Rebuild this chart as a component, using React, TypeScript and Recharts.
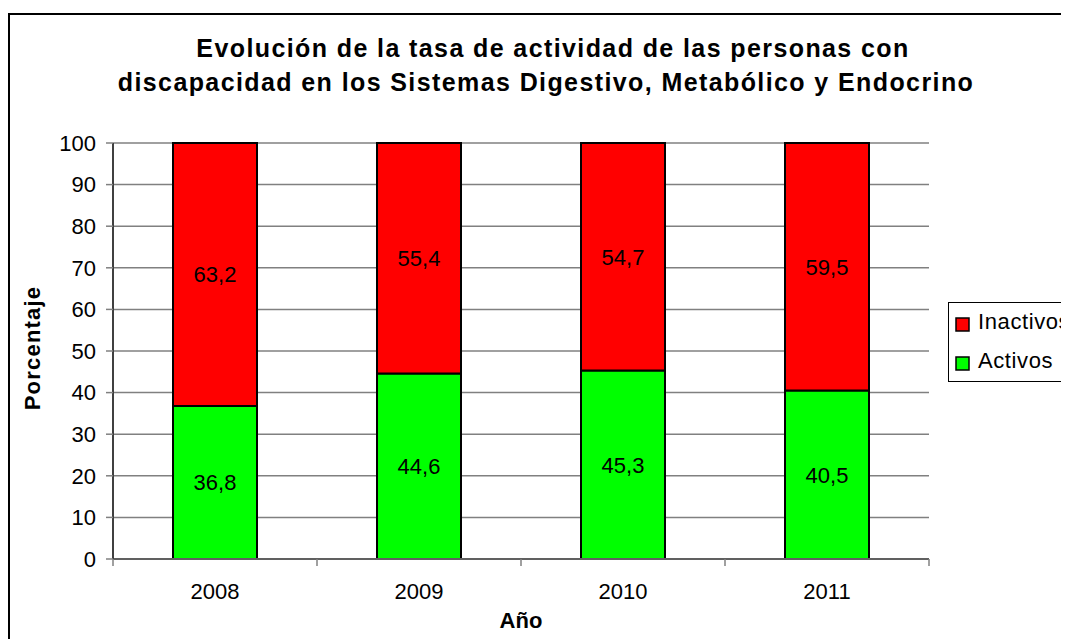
import React from "react";
import {
  BarChart,
  Bar,
  XAxis,
  YAxis,
  CartesianGrid,
  LabelList,
} from "recharts";

// Chart values
const years = ["2008", "2009", "2010", "2011"];
const activos = [36.8, 44.6, 45.3, 40.5];
const inactivos = [63.2, 55.4, 54.7, 59.5];
const yTicks = [0, 10, 20, 30, 40, 50, 60, 70, 80, 90, 100];

const series = [
  { key: "inactivos", name: "Inactivos", color: "#FF0000" },
  { key: "activos", name: "Activos", color: "#00FF00" },
];

const FONT = "'Liberation Sans', Arial, sans-serif";
const W = 1061;
const H = 631;
const PLOT_LEFT = 105;
const PLOT_RIGHT = 921;
const BAND = (PLOT_RIGHT - PLOT_LEFT) / years.length;

const data = years.map((year, i) => ({
  year,
  activos: activos[i],
  inactivos: inactivos[i],
}));

const fmt = (v: any) => Number(v).toFixed(1).replace(".", ",");

// x ticks sit on the category boundaries, labels in the middle
const YearTick = (props: any) => {
  const { x, y, payload, index } = props;
  const half = payload && payload.offset ? payload.offset : BAND / 2;
  const last = index === years.length - 1;
  return (
    <g>
      <line x1={x - half} x2={x - half} y1={y - 7} y2={y} stroke="#808080" strokeWidth={1.5} />
      {last && (
        <line x1={x + half} x2={x + half} y1={y - 7} y2={y} stroke="#808080" strokeWidth={1.5} />
      )}
      <text x={x} y={y + 33} textAnchor="middle" fontSize={22} fontFamily={FONT} fill="#000">
        {payload.value}
      </text>
    </g>
  );
};

const App: React.FC = () => {
  return (
    <div style={{ position: "relative", width: W, height: H, fontFamily: FONT }}>
      <BarChart
        width={W}
        height={H}
        data={data}
        margin={{ top: 135, right: W - PLOT_RIGHT, bottom: 0, left: 0 }}
        barSize={84}
      >
        <CartesianGrid vertical={false} stroke="#808080" strokeWidth={1.5} />
        <XAxis
          dataKey="year"
          height={80}
          tickSize={7}
          tickMargin={0}
          tickLine={false}
          axisLine={{ stroke: "#606060", strokeWidth: 2 }}
          tick={<YearTick />}
        />
        <XAxis
          xAxisId="top"
          orientation="top"
          dataKey="year"
          height={0}
          tick={false}
          tickLine={false}
          axisLine={{ stroke: "#808080", strokeWidth: 2 }}
        />
        <YAxis
          width={PLOT_LEFT}
          domain={[0, 100]}
          ticks={yTicks}
          interval={0}
          tickSize={7}
          tickMargin={10}
          tickLine={{ stroke: "#808080", strokeWidth: 1.5 }}
          axisLine={{ stroke: "#404040", strokeWidth: 2 }}
          tick={{ fontSize: 22, fill: "#000", fontFamily: FONT }}
        />
        <YAxis
          yAxisId="right"
          orientation="right"
          width={0}
          domain={[0, 100]}
          tick={false}
          tickLine={false}
          axisLine={{ stroke: "#808080", strokeWidth: 2 }}
        />
        <Bar
          dataKey="activos"
          stackId="a"
          fill="#00FF00"
          stroke="#000"
          strokeWidth={2}
          isAnimationActive={false}
        >
          <LabelList dataKey="activos" position="center" formatter={fmt} fill="#000" fontSize={22} fontFamily={FONT} />
        </Bar>
        <Bar
          dataKey="inactivos"
          stackId="a"
          fill="#FF0000"
          stroke="#000"
          strokeWidth={2}
          isAnimationActive={false}
        >
          <LabelList dataKey="inactivos" position="center" formatter={fmt} fill="#000" fontSize={22} fontFamily={FONT} />
        </Bar>
      </BarChart>

      {/* title, axis titles, legend and the outer frame */}
      <svg
        width={W}
        height={H}
        style={{ position: "absolute", left: 0, top: 0, pointerEvents: "none" }}
      >
        <path d={`M1 ${H} L1 6 L${W} 6`} fill="none" stroke="#000" strokeWidth={2} />
        <g fontFamily={FONT} fontWeight="bold" fontSize={25} textAnchor="middle" fill="#000" letterSpacing={1.4}>
          <text x={545} y={49}>Evolución de la tasa de actividad de las personas con</text>
          <text x={538} y={83}>discapacidad en los Sistemas Digestivo, Metabólico y Endocrino</text>
        </g>
        <text
          x={32}
          y={340}
          transform="rotate(-90 32 340)"
          textAnchor="middle"
          fontFamily={FONT}
          fontWeight="bold"
          fontSize={22}
          letterSpacing={1.2}
        >
          Porcentaje
        </text>
        <text x={513} y={620} textAnchor="middle" fontFamily={FONT} fontWeight="bold" fontSize={22}>
          Año
        </text>
        <rect x={940.5} y={294.5} width={140} height={79} fill="none" stroke="#000" strokeWidth={1} />
        {series.map((s, i) => (
          <g key={s.key}>
            <rect x={948} y={310 + i * 39} width={13} height={13} fill={s.color} stroke="#000" strokeWidth={1.5} />
            <text x={970} y={321 + i * 39} fontFamily={FONT} fontSize={22} fill="#000" letterSpacing={0.6}>
              {s.name}
            </text>
          </g>
        ))}
      </svg>
    </div>
  );
};

export default App;
